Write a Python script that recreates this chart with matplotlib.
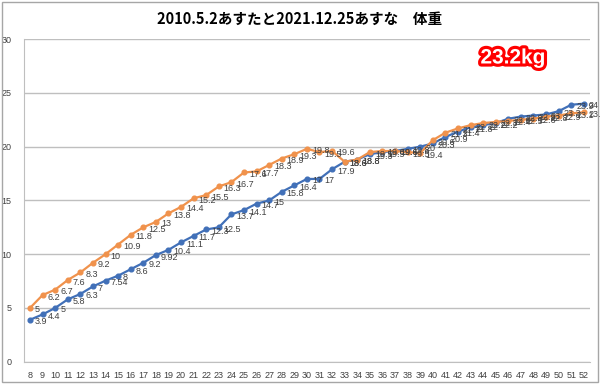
import matplotlib
matplotlib.use("Agg")
import matplotlib.pyplot as plt
import matplotlib.patheffects as pe
from matplotlib.patches import Rectangle

plt.rcParams['font.family'] = ['Liberation Sans', 'Noto Sans CJK JP', 'DejaVu Sans']

weeks = list(range(8, 53))
blue_vals = [3.9, 4.4, 5, 5.8, 6.3, 7, 7.54, 8, 8.6, 9.2, 9.92, 10.4, 11.1, 11.7, 12.3, 12.5,
             13.7, 14.1, 14.7, 15, 15.8, 16.4, 17, 17, 17.9, 18.6, 18.8, 19.3, 19.5, 19.6,
             19.8, 20, 20.3, 20.9, 21.4, 21.8, 22, 22.2, 22.6, 22.8, 22.9, 23, 23.3, 23.9, 24]
orange_vals = [5, 6.2, 6.7, 7.6, 8.3, 9.2, 10, 10.9, 11.8, 12.5, 13, 13.8, 14.4, 15.2, 15.5,
               16.3, 16.7, 17.6, 17.7, 18.3, 18.9, 19.3, 19.8, 19.5, 19.6, 18.6, 18.8, 19.5,
               19.6, 19.6, 19.5, 19.4, 20.6, 21.3, 21.7, 22, 22.2, 22.3, 22.4, 22.5, 22.6,
               22.8, 22.9, 23.1, 23.2]
title = "2010.5.2あすたと2021.12.25あすな　体重"
note = "23.2kg"

fig = plt.figure(figsize=(6, 3.84), dpi=100)
ax = fig.add_axes([0.0395, 0.058, 0.944, 0.84])

blue = '#4170B8'
orange = '#F0924C'
ax.plot(weeks, blue_vals, color=blue, lw=1.6, marker='o', ms=3.4, zorder=3)
ax.plot(weeks, orange_vals, color=orange, lw=1.6, marker='o', ms=3.4, zorder=3)

for xs, ys in ((weeks, blue_vals), (weeks, orange_vals)):
    for x, y in zip(xs, ys):
        ax.annotate(f"{y:g}", (x, y), xytext=(5, -2), textcoords='offset pixels',
                    ha='left', va='center', fontsize=6.5, color='#404040', zorder=4,
                    annotation_clip=False)

ax.set_xlim(7.5, 52.5)
ax.set_ylim(0, 30)
ax.set_xticks(weeks)
ax.set_xticklabels([str(w) for w in weeks])
ax.set_yticks(range(0, 31, 5))
ax.tick_params(axis='both', length=0, labelsize=6.5, colors='#404040')
ax.tick_params(axis='x', pad=7)
ax.tick_params(axis='y', pad=9)
ax.grid(axis='y', color='#BFBFBF', lw=1)
ax.set_axisbelow(True)
for s in ('top', 'right'):
    ax.spines[s].set_visible(False)
ax.spines['left'].set_color('#BFBFBF')
ax.spines['bottom'].set_color('#BFBFBF')

fig.text(0.5, 0.952, title, ha='center', va='center', fontsize=10.5, fontweight='bold',
         family=['Noto Sans CJK JP', 'DejaVu Sans'], color='#000000')

t = fig.text(0.855, 0.849, note, ha='center', va='center',
             fontsize=15, fontweight='bold', color='white',
             family=['Liberation Sans', 'DejaVu Sans'])
t.set_path_effects([pe.Stroke(linewidth=4.5, foreground='#FF0000'), pe.Normal()])

fig.patches.append(Rectangle((0.004, 0.005), 0.992, 0.99, transform=fig.transFigure,
                             fill=False, edgecolor='#A6A6A6', lw=1))

fig.savefig("out.png", dpi=100)
